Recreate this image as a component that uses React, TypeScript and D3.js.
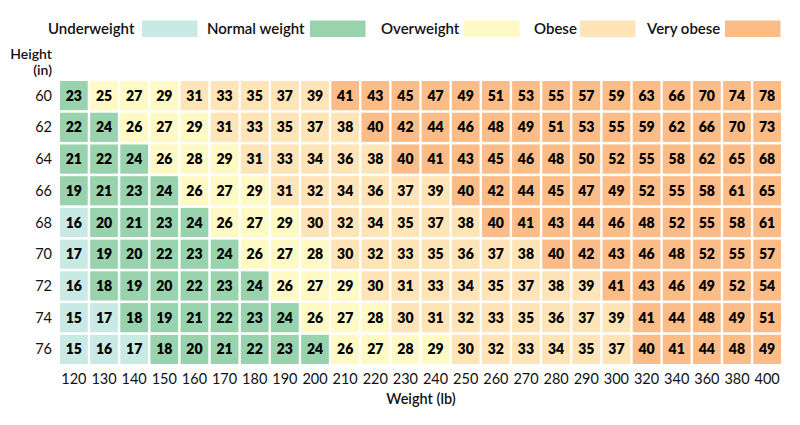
import React from "react";
import * as d3 from "d3";

const weights = [120,130,140,150,160,170,180,190,200,210,220,230,240,250,260,270,280,290,300,320,340,360,380,400];
const heights = [60,62,64,66,68,70,72,74,76];
const bmi60 = [23,25,27,29,31,33,35,37,39,41,43,45,47,49,51,53,55,57,59,63,66,70,74,78];
const bmi62 = [22,24,26,27,29,31,33,35,37,38,40,42,44,46,48,49,51,53,55,59,62,66,70,73];
const bmi64 = [21,22,24,26,28,29,31,33,34,36,38,40,41,43,45,46,48,50,52,55,58,62,65,68];
const bmi66 = [19,21,23,24,26,27,29,31,32,34,36,37,39,40,42,44,45,47,49,52,55,58,61,65];
const bmi68 = [16,20,21,23,24,26,27,29,30,32,34,35,37,38,40,41,43,44,46,48,52,55,58,61];
const bmi70 = [17,19,20,22,23,24,26,27,28,30,32,33,35,36,37,38,40,42,43,46,48,52,55,57];
const bmi72 = [16,18,19,20,22,23,24,26,27,29,30,31,33,34,35,37,38,39,41,43,46,49,52,54];
const bmi74 = [15,17,18,19,21,22,23,24,26,27,28,30,31,32,33,35,36,37,39,41,44,48,49,51];
const bmi76 = [15,16,17,18,20,21,22,23,24,26,27,28,29,30,32,33,34,35,37,40,41,44,48,49];
const rows = [bmi60,bmi62,bmi64,bmi66,bmi68,bmi70,bmi72,bmi74,bmi76];

const categories = ["Underweight","Normal weight","Overweight","Obese","Very obese"];
const thresholds = [18,25,30,40];
const colors = ["#c9e9e5","#99d3ae","#fff9c5","#ffe4b7","#fcbc87"];

const FONT = "Lato, 'Noto Sans', sans-serif";

export default function App() {
  const W = 800, H = 425;
  const x = d3.scaleBand<string>().domain(weights.map(String)).range([60, 781]).paddingInner(0.08).paddingOuter(0);
  const y = d3.scaleBand<string>().domain(heights.map(String)).range([81, 364]).paddingInner(0.08).paddingOuter(0);
  const cat = d3.scaleThreshold<number, string>().domain(thresholds).range(categories);
  const col = d3.scaleOrdinal<string, string>().domain(categories).range(colors);

  const cells: { w: number; h: number; v: number }[] = [];
  heights.forEach((h, i) => rows[i].forEach((v, j) => cells.push({ w: weights[j], h, v })));

  const legend = [
    { label: "Underweight", tx: 48, sx: 142 },
    { label: "Normal weight", tx: 207, sx: 310 },
    { label: "Overweight", tx: 381, sx: 464 },
    { label: "Obese", tx: 534, sx: 580 },
    { label: "Very obese", tx: 647, sx: 725 },
  ];

  return (
    <svg width={W} height={H} style={{ display: "block", position: "absolute", left: 0, top: 0, fontFamily: FONT }}>
      <rect width={W} height={H} fill="#fff" />
      {legend.map((l) => (
        <g key={l.label}>
          <text x={l.tx} y={33.5} fontSize={15} fontWeight={600} fill="#111">{l.label}</text>
          <rect x={l.sx} y={20.5} width={55.5} height={16.5} fill={col(l.label)} />
        </g>
      ))}
      <text x={52} y={58.5} fontSize={14} fontWeight={600} textAnchor="end" fill="#111">Height</text>
      <text x={52} y={74.5} fontSize={14} fontWeight={600} textAnchor="end" fill="#111">(in)</text>
      {cells.map((c) => (
        <g key={c.h + "-" + c.w}>
          <rect x={x(String(c.w))} y={y(String(c.h))} width={x.bandwidth()} height={y.bandwidth()} fill={col(cat(c.v))} />
          <text x={(x(String(c.w)) as number) + x.bandwidth() / 2} y={(y(String(c.h)) as number) + y.bandwidth() / 2 + 5}
            fontSize={14} fontWeight={800} textAnchor="middle" fill="#000">{c.v}</text>
        </g>
      ))}
      {heights.map((h) => (
        <text key={h} x={52} y={(y(String(h)) as number) + y.bandwidth() / 2 + 5} fontSize={14.5} textAnchor="end" fill="#111">{h}</text>
      ))}
      {weights.map((w) => (
        <text key={w} x={(x(String(w)) as number) + x.bandwidth() / 2} y={383.5} fontSize={14.5} textAnchor="middle" fill="#111">{w}</text>
      ))}
      <text x={421} y={403.5} fontSize={14.5} fontWeight={600} textAnchor="middle" fill="#111">Weight (lb)</text>
    </svg>
  );
}
